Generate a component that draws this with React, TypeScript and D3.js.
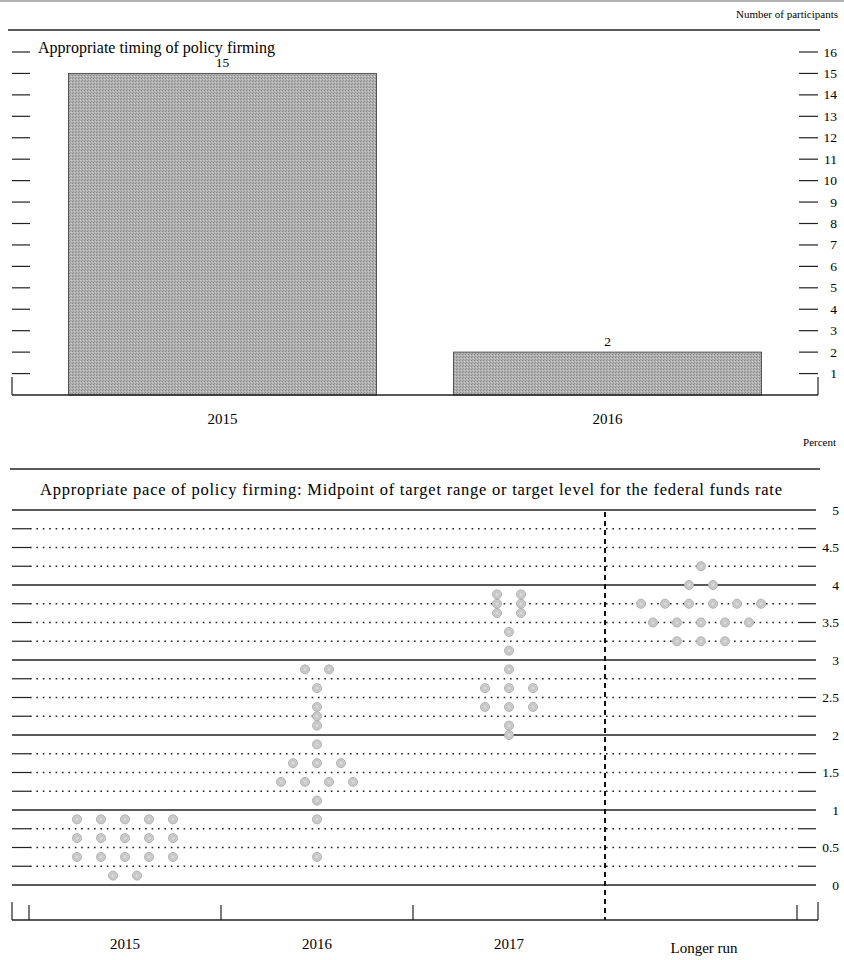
import React from "react";
import * as d3 from "d3";

// ---------- Data ----------
const timingCategories = ["2015", "2016"];
const timingCounts = [15, 2];
const timingTicks = d3.range(1, 17);

const paceColumns = ["2015", "2016", "2017", "Longer run"];
const dots2015 = [0.875, 0.875, 0.875, 0.875, 0.875, 0.625, 0.625, 0.625, 0.625, 0.625, 0.375, 0.375, 0.375, 0.375, 0.375, 0.125, 0.125];
const dots2016 = [2.875, 2.875, 2.625, 2.375, 2.25, 2.125, 1.875, 1.625, 1.625, 1.625, 1.375, 1.375, 1.375, 1.375, 1.125, 0.875, 0.375];
const dots2017 = [3.875, 3.875, 3.75, 3.75, 3.625, 3.625, 3.375, 3.125, 2.875, 2.625, 2.625, 2.625, 2.375, 2.375, 2.375, 2.125, 2.0];
const dotsLonger = [4.25, 4.0, 4.0, 3.75, 3.75, 3.75, 3.75, 3.75, 3.75, 3.5, 3.5, 3.5, 3.5, 3.5, 3.25, 3.25, 3.25];
const paceDots = [dots2015, dots2016, dots2017, dotsLonger];
const paceTickLabels = ["0", "0.5", "1", "1.5", "2", "2.5", "3", "3.5", "4", "4.5", "5"];

const FONT = "'Liberation Serif', 'DejaVu Serif', serif";

export default function App() {
  const W = 844, H = 960;

  // top panel scales
  const yTop = d3.scaleLinear().domain([0, 16]).range([395, 52]);
  const xTop = d3.scaleBand().domain(timingCategories).range([30, 800]).paddingInner(0.2).paddingOuter(0.1);

  // bottom panel scales
  const yPace = d3.scaleLinear().domain([0, 5]).range([885, 510]);
  const xPace = d3.scaleBand().domain(paceColumns).range([29, 797]);
  const gridVals = d3.range(0, 5.001, 0.25);
  const left = 12, right = 816;
  const dotGap = 24;

  const dotElems: any[] = [];
  paceColumns.forEach((col, ci) => {
    const cx = (xPace(col) as number) + xPace.bandwidth() / 2;
    const groups = d3.groups(paceDots[ci], (v: number) => v);
    groups.forEach(([v, arr]) => {
      const n = arr.length;
      arr.forEach((_, i) => {
        dotElems.push(
          <circle key={`${col}-${v}-${i}`} cx={cx + (i - (n - 1) / 2) * dotGap} cy={yPace(v)} r={4.5}
            fill="url(#dotGrad)" stroke="#a8a8a8" strokeWidth={0.9} />
        );
      });
    });
  });

  const boundaries = paceColumns.map((c) => xPace(c) as number).concat([xPace.range()[1]]);

  return (
    <svg width={W} height={H} style={{ position: "absolute", left: 0, top: 0, background: "#fff" }} fontFamily={FONT}>
      <defs>
        <pattern id="halftone" width="3" height="3" patternUnits="userSpaceOnUse">
          <rect width="3" height="3" fill="#b0b0b0" />
          <rect width="1" height="1" fill="#888" />
          <rect x="2" y="1" width="1" height="1" fill="#cccccc" />
          <rect x="1" y="2" width="1" height="1" fill="#979797" />
        </pattern>
        <radialGradient id="dotGrad">
          <stop offset="0%" stopColor="#e2e2e2" />
          <stop offset="55%" stopColor="#c4c4c4" />
          <stop offset="100%" stopColor="#d6d6d6" />
        </radialGradient>
      </defs>
      <line x1={0} x2={W} y1={1} y2={1} stroke="#999" strokeWidth={1.5} />

      {/* ---------- Top panel ---------- */}
      <text x={838} y={18} textAnchor="end" fontSize={11}>Number of participants</text>
      <line x1={8} x2={820} y1={30} y2={30} stroke="#222" strokeWidth={1.4} />
      <text x={38} y={53} fontSize={16} textLength={237} lengthAdjust="spacing">Appropriate timing of policy firming</text>
      {timingTicks.map((t) => (
        <g key={t}>
          <line x1={12} x2={30} y1={yTop(t)} y2={yTop(t)} stroke="#222" strokeWidth={1.2} />
          <line x1={799} x2={818} y1={yTop(t)} y2={yTop(t)} stroke="#222" strokeWidth={1.2} />
          <text x={837} y={yTop(t) + 4.5} textAnchor="end" fontSize={13.5}>{t}</text>
        </g>
      ))}
      {timingCategories.map((c, i) => (
        <g key={c}>
          <rect x={xTop(c)} y={yTop(timingCounts[i])} width={xTop.bandwidth()} height={yTop(0) - yTop(timingCounts[i])}
            fill="url(#halftone)" stroke="#555" strokeWidth={1} />
          <text x={(xTop(c) as number) + xTop.bandwidth() / 2} y={yTop(timingCounts[i]) - 6} textAnchor="middle" fontSize={13.5}>{timingCounts[i]}</text>
          <text x={(xTop(c) as number) + xTop.bandwidth() / 2} y={424} textAnchor="middle" fontSize={15}>{c}</text>
        </g>
      ))}
      <line x1={12} x2={818} y1={yTop(0)} y2={yTop(0)} stroke="#222" strokeWidth={1.4} />
      <line x1={12} x2={12} y1={yTop(0) - 18} y2={yTop(0)} stroke="#222" strokeWidth={1.2} />
      <line x1={818} x2={818} y1={yTop(0) - 18} y2={yTop(0)} stroke="#222" strokeWidth={1.2} />

      {/* ---------- Bottom panel ---------- */}
      <text x={836} y={446} textAnchor="end" fontSize={11}>Percent</text>
      <line x1={10} x2={820} y1={469} y2={469} stroke="#222" strokeWidth={1.4} />
      <text x={40} y={495} fontSize={16.5} textLength={742} lengthAdjust="spacing">Appropriate pace of policy firming: Midpoint of target range or target level for the federal funds rate</text>
      {gridVals.map((v) => {
        const y = yPace(v);
        const isInt = Math.abs(v - Math.round(v)) < 1e-6;
        return (
          <g key={v}>
            {isInt ? (
              <line x1={left} x2={right} y1={y} y2={y} stroke="#222" strokeWidth={1.3} />
            ) : (
              <>
                <line x1={left} x2={30} y1={y} y2={y} stroke="#222" strokeWidth={1.2} />
                <line x1={30} x2={798} y1={y} y2={y} stroke="#222" strokeWidth={1.3} strokeDasharray="1.6,4.8" />
                <line x1={798} x2={right} y1={y} y2={y} stroke="#222" strokeWidth={1.2} />
              </>
            )}
          </g>
        );
      })}
      {paceTickLabels.map((l) => (
        <text key={l} x={839} y={yPace(+l) + 4.5} textAnchor="end" fontSize={13.5}>{l}</text>
      ))}
      <line x1={xPace("Longer run")} x2={xPace("Longer run")} y1={512} y2={920} stroke="#111" strokeWidth={2} strokeDasharray="5,4" />
      {dotElems}
      <line x1={12} x2={818} y1={920} y2={920} stroke="#222" strokeWidth={1.4} />
      <line x1={12} x2={12} y1={902} y2={920} stroke="#222" strokeWidth={1.2} />
      <line x1={818} x2={818} y1={902} y2={920} stroke="#222" strokeWidth={1.2} />
      {boundaries.filter((b) => b !== xPace("Longer run")).map((b) => (
        <line key={b} x1={b} x2={b} y1={905} y2={920} stroke="#222" strokeWidth={1.2} />
      ))}
      {paceColumns.map((c) => (
        <text key={c} x={(xPace(c) as number) + xPace.bandwidth() / 2 + (c === "Longer run" ? 3 : 0)} y={c === "Longer run" ? 953 : 949}
          textAnchor="middle" fontSize={15}>{c}</text>
      ))}
    </svg>
  );
}
